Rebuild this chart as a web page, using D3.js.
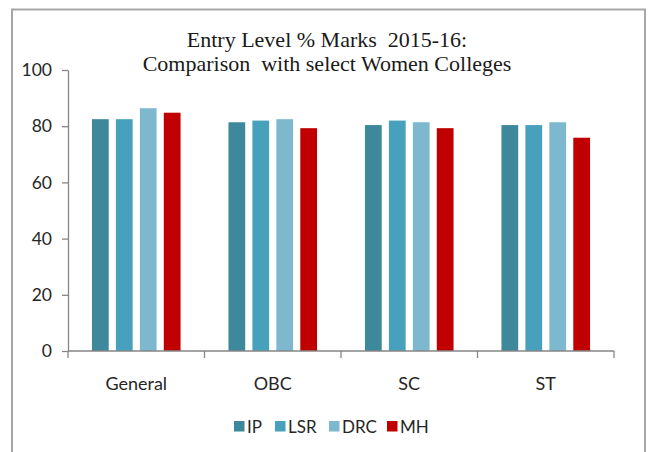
<!DOCTYPE html>
<html>
<head>
<meta charset="utf-8">
<script src="https://cdn.jsdelivr.net/npm/d3@7"></script>
<style>
  html, body { margin: 0; padding: 0; background: #fff; }
  svg { display: block; }
</style>
</head>
<body>
<svg id="chart" width="649" height="452"></svg>
<script>
// Entry-level % marks by admission category for four colleges
const categories = ["General", "OBC", "SC", "ST"];
const seriesNames = ["IP", "LSR", "DRC", "MH"];
const ipValues  = [82.5, 81.4, 80.4, 80.4];
const lsrValues = [82.5, 82.0, 82.0, 80.4];
const drcValues = [86.4, 82.5, 81.4, 81.4];
const mhValues  = [84.8, 79.3, 79.3, 75.9];
const yTicks = [0, 20, 40, 60, 80, 100];
const titleLines = ["Entry Level % Marks  2015-16:", "Comparison  with select Women Colleges"];

const seriesValues = [ipValues, lsrValues, drcValues, mhValues];
const colors = ["#3d889b", "#47a1bd", "#7db8cf", "#c00000"];

const svg = d3.select("#chart");
const plot = { left: 68, right: 614, top: 70, bottom: 351 };
const labelFont = "Lato, 'Open Sans', sans-serif";

// outer frame
svg.append("rect")
  .attr("x", 12).attr("y", 9.5)
  .attr("width", 633).attr("height", 460)
  .attr("fill", "#fff")
  .attr("stroke", "#a6a6a6").attr("stroke-width", 2);

const x0 = d3.scaleBand().domain(categories).range([plot.left, plot.right]).padding(0);
const x1 = d3.scaleBand().domain(seriesNames).range([0, x0.bandwidth()])
  .paddingInner(0.3).paddingOuter(1.0);
const y = d3.scaleLinear().domain([0, 100]).range([plot.bottom, plot.top]);

// bars
const groups = svg.append("g").selectAll("g")
  .data(categories)
  .join("g")
  .attr("transform", d => `translate(${x0(d)},0)`);

groups.selectAll("rect")
  .data((c, ci) => seriesNames.map((s, si) => ({ s, si, v: seriesValues[si][ci] })))
  .join("rect")
  .attr("x", d => x1(d.s))
  .attr("width", x1.bandwidth())
  .attr("y", d => y(d.v))
  .attr("height", d => y(0) - y(d.v))
  .attr("fill", d => colors[d.si]);

const axisColor = "#868686";
const textColor = "#262626";

// y axis
const yAxis = svg.append("g")
  .attr("transform", `translate(${plot.left},0)`)
  .call(d3.axisLeft(y).tickValues(yTicks).tickSize(6).tickSizeOuter(0).tickPadding(10));
yAxis.select(".domain").attr("stroke", axisColor).attr("stroke-width", 1.3);
yAxis.selectAll(".tick line").attr("stroke", axisColor).attr("stroke-width", 1.3);
yAxis.selectAll(".tick text")
  .attr("fill", textColor)
  .style("font-family", labelFont)
  .style("font-size", "17.5px");

// x axis with boundary ticks between categories
const xAxisG = svg.append("g").attr("transform", `translate(0,${plot.bottom})`);
xAxisG.append("line")
  .attr("x1", plot.left).attr("x2", plot.right)
  .attr("y1", 0).attr("y2", 0)
  .attr("stroke", axisColor).attr("stroke-width", 1.3);
const boundaries = categories.map(c => x0(c)).concat([plot.right]);
xAxisG.selectAll(".bound")
  .data(boundaries)
  .join("line")
  .attr("class", "bound")
  .attr("x1", d => d).attr("x2", d => d)
  .attr("y1", 0).attr("y2", 7)
  .attr("stroke", axisColor).attr("stroke-width", 1.3);
xAxisG.selectAll(".cat")
  .data(categories)
  .join("text")
  .attr("class", "cat")
  .attr("x", d => x0(d) + x0.bandwidth() / 2)
  .attr("y", 39)
  .attr("text-anchor", "middle")
  .attr("fill", textColor)
  .style("font-family", labelFont)
  .style("font-size", "18px")
  .text(d => d);

// title
svg.append("g").selectAll("text")
  .data(titleLines)
  .join("text")
  .attr("x", 327)
  .attr("y", (d, i) => 47 + i * 24)
  .attr("text-anchor", "middle")
  .attr("fill", "#1a1a1a")
  .style("font-family", "'Liberation Serif', 'Times New Roman', serif")
  .style("font-size", "22px")
  .style("white-space", "pre")
  .text(d => d);

// legend
const legendItems = [
  { name: "IP", x: 234 },
  { name: "LSR", x: 275 },
  { name: "DRC", x: 329 },
  { name: "MH", x: 387 }
];
const legend = svg.append("g");
legendItems.forEach((item, i) => {
  legend.append("rect")
    .attr("x", item.x).attr("y", 421)
    .attr("width", 10.5).attr("height", 10.5)
    .attr("fill", colors[i]);
  legend.append("text")
    .attr("x", item.x + 13).attr("y", 433)
    .attr("fill", textColor)
    .style("font-family", labelFont)
    .style("font-size", "17px")
    .text(item.name);
});
</script>
</body>
</html>
